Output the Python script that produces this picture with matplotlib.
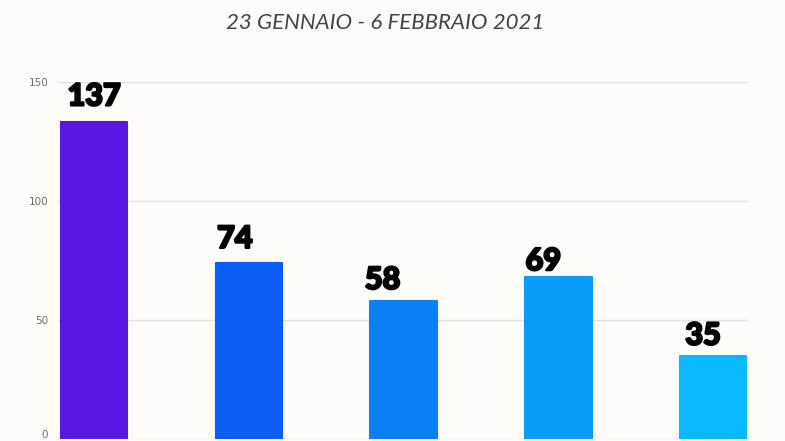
import matplotlib.pyplot as plt
import matplotlib.patheffects as pe
import matplotlib.transforms as mtransforms
import numpy as np

# dati
categorie = ['A', 'B', 'C', 'D', 'E']
altezze = [133, 74, 58, 68, 35]          # altezza disegnata delle barre
etichette = ['137', '74', '58', '69', '35']
colori = ['#5a17e4', '#0a5ef5', '#0a7ff6', '#0a9af7', '#0ab9fb']
tick_y = [0, 50, 100, 150]
titolo = '23 GENNAIO - 6 FEBBRAIO 2021'

# spostamento a mano delle etichette (pixel)
dx = [0, -14, -21, -15, -10]
dy = [12, 10, 7, 2, 6]

sfondo = '#fdfcf9'
fig = plt.figure(figsize=(7.85, 4.41), dpi=100, facecolor=sfondo)
ax = fig.add_axes([58/785, 2/441, 690/785, 357/441], facecolor=sfondo)

x = np.arange(len(categorie))
ax.bar(x, altezze, width=0.43, color=colori, edgecolor=colori,
       linewidth=1.5, joinstyle='round', zorder=3)

for i in range(len(x)):
    ax.annotate(etichette[i], (x[i], altezze[i]), xytext=(dx[i], dy[i]),
                textcoords='offset pixels', ha='center', va='bottom',
                fontsize=22, fontweight='black', fontfamily='Lato',
                color='black', zorder=4, annotation_clip=False,
                path_effects=[pe.withStroke(linewidth=1.6, foreground='black')])

ax.set_xlim(-0.233, 4.226)
ax.set_ylim(0, 150)
ax.set_yticks(tick_y)
ax.set_yticklabels([str(t) for t in tick_y], fontsize=7.5, color='#6e6e6e',
                   fontfamily='DejaVu Sans')
ax.tick_params(axis='y', length=0, pad=7)
ax.set_xticks([])
ax.grid(axis='y', color='#e2e2e2', linewidth=1, zorder=0)
for s in ax.spines.values():
    s.set_visible(False)

# lo zero sta sul bordo: lo alzo un poco per non tagliarlo
fig.canvas.draw()
zero = ax.get_yticklabels()[0]
zero.set_transform(zero.get_transform() +
                   mtransforms.ScaledTranslation(0, 5/100, fig.dpi_scale_trans))

fig.text(385/785, 1 - 23/441, titolo, ha='center', va='center',
         fontsize=16, style='italic', color='#444444', fontfamily='Lato')

fig.savefig('out.png', dpi=100, facecolor=sfondo)
